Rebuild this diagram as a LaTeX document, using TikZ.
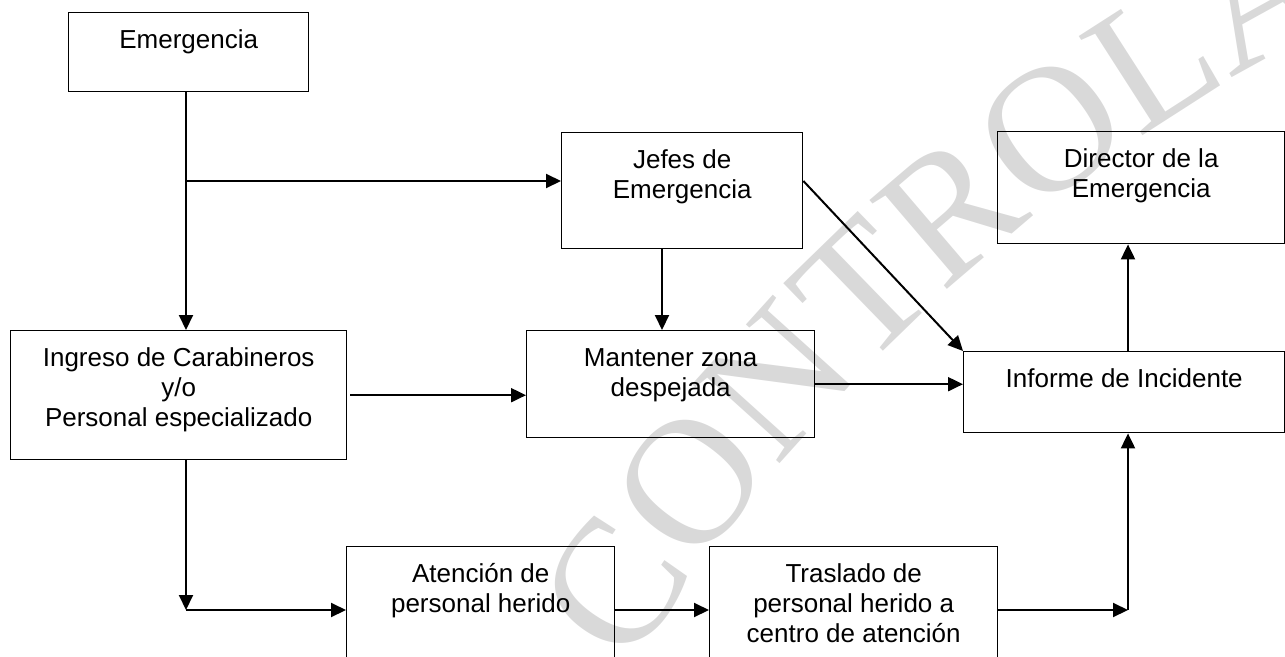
\documentclass[tikz,border=0pt]{standalone}
\usepackage{fontspec}
\setmainfont{Liberation Sans}
\newfontfamily\stampfont{Liberation Serif}
\usetikzlibrary{arrows.meta,decorations.text}

\definecolor{stampgray}{RGB}{217,217,217}

% text of a box, pushed to the top as in the original sheet
\newcommand{\boxtext}[3]{\parbox[t][#2pt][t]{#1pt}{\centering\rule{0pt}{36pt}#3}}

\tikzset{
	box/.style={draw, line width=1.4pt, inner sep=0pt, anchor=north west,
		font=\fontsize{26}{30}\selectfont},
	arr/.style={line width=2pt, -{Triangle[length=15pt,width=14pt]}},
	stamp/.style={decorate, decoration={text along path, text color=stampgray,
		text={|\stampfont\fontsize{180}{180}\selectfont|CONTROLADA}}}
}

\begin{document}
\begin{tikzpicture}[x=1pt, y=-1pt]
	\useasboundingbox (0,0) rectangle (1285,656);
	\clip (0,0) rectangle (1285,656);
	\path[stamp] (630,670) .. controls (862,299) and (1222,24) .. (1642,-101);
	\node(emerg) [box] at (68,12) {\boxtext{240}{79}{Emergencia}};
	\node(jefes) [box] at (561,132) {\boxtext{241}{116}{Jefes de\\Emergencia}};
	\node(director) [box] at (997,131) {\boxtext{287}{112}{Director de la\\Emergencia}};
	\node(ingreso) [box] at (10,330) {\boxtext{336}{129}{Ingreso de Carabineros\\y/o\\Personal especializado}};
	\node(mantener) [box] at (526,330) {\boxtext{288}{107}{Mantener zona\\despejada}};
	\node(informe) [box] at (963,351) {\boxtext{321}{81}{Informe de Incidente}};
	\node(atencion) [box] at (346,546) {\boxtext{268}{130}{Atención de\\personal herido}};
	\node(traslado) [box] at (709,546) {\boxtext{288}{130}{Traslado de\\personal herido a\\centro de atención}};
	\coordinate(split) at (186,181);
	\coordinate(corner) at (186,610);
	\coordinate(jdrop) at (662,248);
	\coordinate(merge) at (1128,610);
	\draw[arr] (emerg.south -| split) -- (ingreso.north -| split);
	\draw[arr] (split) -- (split -| jefes.west);
	\draw[arr] ([xshift=3pt]ingreso.east) -- (ingreso.east -| mantener.west);
	\draw[arr] (jefes.south -| jdrop) -- (mantener.north -| jdrop);
	\draw[arr] (jefes.east |- split) -- (informe.north west);
	\draw[arr] (mantener.east) -- (mantener.east -| informe.west);
	\draw[arr] (informe.north -| merge) -- (director.south -| merge);
	\draw[arr] (ingreso.south -| corner) -- (corner);
	\draw[arr] (corner) -- (corner -| atencion.west);
	\draw[arr] (atencion.east |- corner) -- (traslado.west |- corner);
	\draw[arr] (traslado.east |- merge) -- (merge);
	\draw[arr] (merge) -- (informe.south -| merge);
\end{tikzpicture}
\end{document}
